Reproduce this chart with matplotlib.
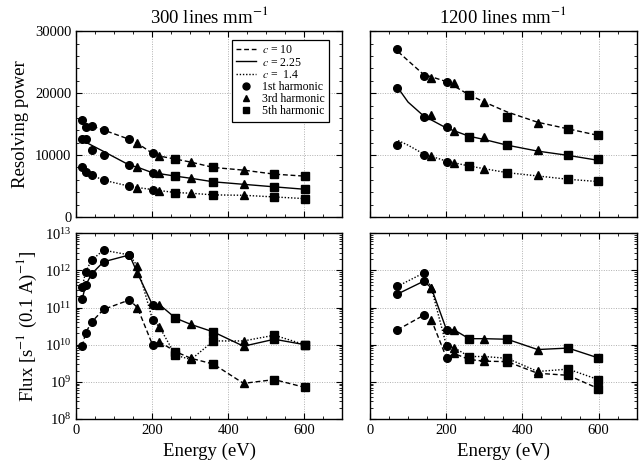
import numpy as np
import matplotlib
matplotlib.use('Agg')
from matplotlib import pyplot as plt
from matplotlib.lines import Line2D
from matplotlib.ticker import MultipleLocator, LogLocator, LogFormatterMathtext, NullFormatter

plt.rcParams['font.family'] = ['Liberation Serif', 'DejaVu Serif']
plt.rcParams['mathtext.fontset'] = 'stix'

# 300 lines/mm grating: measured points
e_300 = [16, 25, 41, 72, 140, 161, 201, 219, 261, 302, 361, 440, 521, 601]
h_300 = [1, 1, 1, 1, 1, 3, 1, 3, 5, 3, 5, 3, 5, 5]
rp_300_c10 = [15680, 14490, 14700, 14050, 12540, 12000, 10270, 9840, 9350, 8860, 8000, 7570, 6920, 6600]
rp_300_c225 = [12540, 12540, 10810, 10000, 8380, 8110, 7140, 7030, 6600, 6220, 5680, 5300, 4870, 4540]
rp_300_c14 = [8000, 7300, 6760, 5950, 4970, 4760, 4430, 4270, 3950, 3840, 3570, 3510, 3240, 2970]
fit_300_c10 = [15680, 14490, 14700, 14050, 12540, 11900, 10270, 9840, 9350, 8860, 8000, 7570, 6920, 6600]
fit_300_c225 = [12320, 12100, 11570, 10590, 8380, 8050, 7140, 7000, 6600, 6250, 5680, 5280, 4870, 4480]
fit_300_c14 = [8000, 7300, 6760, 5950, 4970, 4760, 4430, 4270, 3950, 3840, 3570, 3510, 3240, 2970]
flux_300_c10 = [9.1e9, 2.1e10, 4.1e10, 8.9e10, 1.6e11, 1.0e11, 9.8e9, 1.2e10, 6.5e9, 4.3e9, 3.0e9, 9.1e8, 1.15e9, 7.1e8]
flux_300_c225 = [1.7e11, 4.0e11, 8.1e11, 1.7e12, 2.6e12, 8.5e11, 1.15e11, 1.2e11, 5.2e10, 3.5e10, 2.2e10, 9.1e9, 1.4e10, 1.0e10]
flux_300_c14 = [3.5e11, 9.3e11, 1.9e12, 3.5e12, 2.6e12, 1.3e12, 4.6e10, 3.0e10, 5.2e9, 4.0e9, 1.26e10, 1.26e10, 1.8e10, 1.0e10]

# 1200 lines/mm grating
e_1200 = [72, 141, 161, 201, 221, 260, 300, 360, 440, 520, 599]
h_1200 = [1, 1, 3, 1, 3, 5, 3, 5, 3, 5, 5]
rp_1200_c10 = [27070, 22790, 22410, 21770, 21610, 19740, 18560, 16150, 15190, 14280, 13260]
rp_1200_c225 = [20810, 16150, 16420, 14490, 13960, 13000, 13000, 11600, 10800, 9950, 9360]
rp_1200_c14 = [11550, 10000, 9840, 8930, 8660, 8180, 7810, 7060, 6790, 6090, 5770]
e_fit_1200 = [74, 100, 140, 200, 260, 300, 360, 440, 520, 600]
fit_1200_c10 = [26690, 25250, 23050, 21880, 19740, 18560, 16960, 15300, 14230, 13160]
fit_1200_c225 = [20810, 18560, 16370, 14390, 13050, 12510, 11600, 10640, 9950, 9140]
fit_1200_c14 = [12350, 11600, 10210, 9040, 8230, 7800, 7160, 6630, 6090, 5720]
flux_1200_c10 = [2.5e10, 6.2e10, 4.7e10, 4.4e9, 5.8e9, 4.0e9, 3.6e9, 3.5e9, 1.7e9, 1.5e9, 6.6e8]
flux_1200_c225 = [2.3e11, 5.1e11, 3.4e11, 2.5e10, 2.5e10, 1.45e10, 1.45e10, 1.4e10, 7.4e9, 8.1e9, 4.4e9]
flux_1200_c14 = [3.7e11, 8.5e11, 3.4e11, 9.1e9, 8.3e9, 4.8e9, 4.8e9, 4.3e9, 1.9e9, 2.2e9, 1.15e9]

styles = {'c10': (0, (3.5, 2)), 'c225': '-', 'c14': (0, (1, 1.3))}
markers = {1: 'o', 3: '^', 5: 's'}


def draw_markers(ax, e, h, vals):
    e = np.array(e)
    h = np.array(h)
    vals = np.array(vals)
    for harm, m in markers.items():
        sel = h == harm
        ax.plot(e[sel], vals[sel], m, color='k', ms=5.5, zorder=3)


def style_axes(ax, log=False):
    ax.set_xlim(0, 700)
    ax.xaxis.set_major_locator(MultipleLocator(200))
    ax.xaxis.set_minor_locator(MultipleLocator(50))
    if log:
        ax.set_yscale('log')
        ax.set_ylim(1e8, 1e13)
        ax.yaxis.set_major_locator(LogLocator(base=10, numticks=10))
        ax.yaxis.set_minor_locator(LogLocator(base=10, subs=np.arange(2, 10), numticks=20))
        ax.yaxis.set_major_formatter(LogFormatterMathtext())
        ax.yaxis.set_minor_formatter(NullFormatter())
    else:
        ax.set_ylim(0, 30000)
        ax.yaxis.set_major_locator(MultipleLocator(10000))
        ax.yaxis.set_minor_locator(MultipleLocator(2000))
    ax.tick_params(which='both', direction='in', top=True, right=True, labelsize=10.5)
    ax.tick_params(which='major', length=4, width=0.8)
    ax.tick_params(which='minor', length=2.5, width=0.6)
    ax.grid(True, which='major', color='#b0b0b0', linestyle=(0, (1, 1.5)), linewidth=0.7)
    for s in ax.spines.values():
        s.set_linewidth(1.0)


fig = plt.figure(figsize=(6.4, 4.68), dpi=100)
ax_tl = fig.add_axes([0.119, 0.5363, 0.416, 0.397])
ax_tr = fig.add_axes([0.578, 0.5363, 0.417, 0.397])
ax_bl = fig.add_axes([0.119, 0.1047, 0.416, 0.397])
ax_br = fig.add_axes([0.578, 0.1047, 0.417, 0.397])

# resolving power, 300 lines/mm
for fit, pts, key in [(fit_300_c10, rp_300_c10, 'c10'),
                      (fit_300_c225, rp_300_c225, 'c225'),
                      (fit_300_c14, rp_300_c14, 'c14')]:
    ax_tl.plot(e_300, fit, color='k', lw=1.0, linestyle=styles[key])
    draw_markers(ax_tl, e_300, h_300, pts)

# resolving power, 1200 lines/mm
for fit, pts, key in [(fit_1200_c10, rp_1200_c10, 'c10'),
                      (fit_1200_c225, rp_1200_c225, 'c225'),
                      (fit_1200_c14, rp_1200_c14, 'c14')]:
    ax_tr.plot(e_fit_1200, fit, color='k', lw=1.0, linestyle=styles[key])
    draw_markers(ax_tr, e_1200, h_1200, pts)

# flux
for pts, key in [(flux_300_c10, 'c10'), (flux_300_c225, 'c225'), (flux_300_c14, 'c14')]:
    ax_bl.plot(e_300, pts, color='k', lw=1.0, linestyle=styles[key])
    draw_markers(ax_bl, e_300, h_300, pts)
for pts, key in [(flux_1200_c10, 'c10'), (flux_1200_c225, 'c225'), (flux_1200_c14, 'c14')]:
    ax_br.plot(e_1200, pts, color='k', lw=1.0, linestyle=styles[key])
    draw_markers(ax_br, e_1200, h_1200, pts)

for ax in (ax_tl, ax_tr):
    style_axes(ax)
    ax.tick_params(labelbottom=False)
for ax in (ax_bl, ax_br):
    style_axes(ax, log=True)
    ax.set_xlabel('Energy (eV)', fontsize=13.5)
for ax in (ax_tr, ax_br):
    ax.tick_params(labelleft=False)

ax_tl.set_ylabel('Resolving power', fontsize=13.5)
ax_bl.set_ylabel('Flux [s$^{-1}$ (0.1 A)$^{-1}$]', fontsize=13.5)
ax_tl.set_title('300 lines mm$^{-1}$', fontsize=13.5, pad=6)
ax_tr.set_title('1200 lines mm$^{-1}$', fontsize=13.5, pad=6)

handles = [
    Line2D([], [], color='k', lw=1.0, linestyle=styles['c10']),
    Line2D([], [], color='k', lw=1.0, linestyle=styles['c225']),
    Line2D([], [], color='k', lw=1.0, linestyle=styles['c14']),
    Line2D([], [], color='k', marker='o', ms=5, linestyle='none'),
    Line2D([], [], color='k', marker='^', ms=5, linestyle='none'),
    Line2D([], [], color='k', marker='s', ms=4.5, linestyle='none'),
]
labels = ['$c$ = 10', '$c$ = 2.25', '$c$ =  1.4',
          '1st harmonic', '3rd harmonic', '5th harmonic']
leg = ax_tl.legend(handles, labels, loc='upper right', fontsize=8.5,
                   handlelength=1.7, handletextpad=0.5, labelspacing=0.02,
                   borderpad=0.35, borderaxespad=0, fancybox=False,
                   framealpha=1, edgecolor='k', bbox_to_anchor=(0.95, 0.952))
leg.get_frame().set_linewidth(0.9)

fig.savefig('out.png', dpi=100)
